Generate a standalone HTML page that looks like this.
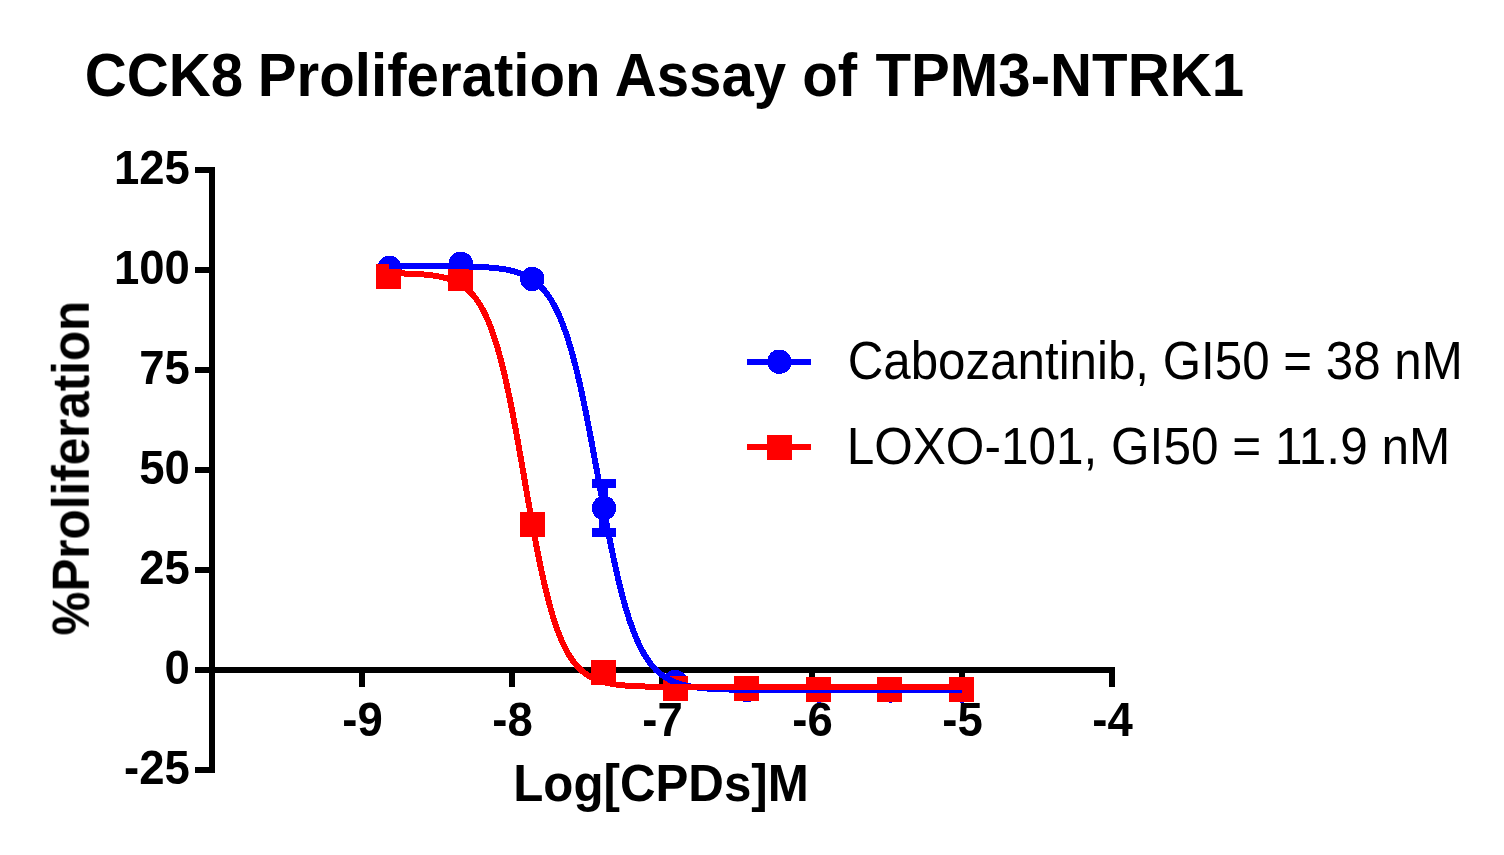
<!DOCTYPE html><html><head><meta charset="utf-8"><style>html,body{margin:0;padding:0;background:#fff;overflow:hidden}svg{display:block}text{will-change:transform}</style></head><body>
<svg width="1504" height="855" viewBox="0 0 1504 855">
<rect width="1504" height="855" fill="#fff"/>
<text transform="translate(84.70,96.00) scale(1.0000,1.0460)" font-family="Liberation Sans, sans-serif" font-weight="bold" font-size="58.20" text-anchor="start">CCK8</text>
<text transform="translate(257.80,96.00) scale(1.0000,1.0460)" font-family="Liberation Sans, sans-serif" font-weight="bold" font-size="58.20" text-anchor="start">Proliferation</text>
<text transform="translate(614.65,96.00) scale(1.0000,1.0460)" font-family="Liberation Sans, sans-serif" font-weight="bold" font-size="58.20" text-anchor="start">Assay</text>
<text transform="translate(802.20,96.00) scale(1.0000,1.0460)" font-family="Liberation Sans, sans-serif" font-weight="bold" font-size="58.20" text-anchor="start">of</text>
<text transform="translate(875.50,96.00) scale(1.0000,1.0460)" font-family="Liberation Sans, sans-serif" font-weight="bold" font-size="58.20" text-anchor="start">TPM3-NTRK1</text>
<g fill="#000" shape-rendering="crispEdges"><rect x="209" y="167" width="6" height="606"/><rect x="195" y="167" width="20" height="6"/><rect x="195" y="267" width="20" height="6"/><rect x="195" y="367" width="20" height="6"/><rect x="195" y="467" width="20" height="6"/><rect x="195" y="567" width="20" height="6"/><rect x="195" y="667" width="20" height="6"/><rect x="195" y="767" width="20" height="6"/><rect x="209" y="667" width="906" height="6"/><rect x="359" y="667" width="6" height="20"/><rect x="509" y="667" width="6" height="20"/><rect x="659" y="667" width="6" height="20"/><rect x="809" y="667" width="6" height="20"/><rect x="959" y="667" width="6" height="20"/><rect x="1109" y="667" width="6" height="20"/></g>
<text transform="translate(189.80,183.60) scale(1.0000,1.0500)" font-family="Liberation Sans, sans-serif" font-weight="bold" font-size="45.50" text-anchor="end">125</text>
<text transform="translate(189.80,283.60) scale(1.0000,1.0500)" font-family="Liberation Sans, sans-serif" font-weight="bold" font-size="45.50" text-anchor="end">100</text>
<text transform="translate(189.80,383.60) scale(1.0000,1.0500)" font-family="Liberation Sans, sans-serif" font-weight="bold" font-size="45.50" text-anchor="end">75</text>
<text transform="translate(189.80,483.60) scale(1.0000,1.0500)" font-family="Liberation Sans, sans-serif" font-weight="bold" font-size="45.50" text-anchor="end">50</text>
<text transform="translate(189.80,583.60) scale(1.0000,1.0500)" font-family="Liberation Sans, sans-serif" font-weight="bold" font-size="45.50" text-anchor="end">25</text>
<text transform="translate(189.80,683.60) scale(1.0000,1.0500)" font-family="Liberation Sans, sans-serif" font-weight="bold" font-size="45.50" text-anchor="end">0</text>
<text transform="translate(189.80,783.60) scale(1.0000,1.0500)" font-family="Liberation Sans, sans-serif" font-weight="bold" font-size="45.50" text-anchor="end">-25</text>
<text transform="translate(362.50,736.50) scale(1.0000,1.0450)" font-family="Liberation Sans, sans-serif" font-weight="bold" font-size="45.50" text-anchor="middle">-9</text>
<text transform="translate(512.50,736.50) scale(1.0000,1.0450)" font-family="Liberation Sans, sans-serif" font-weight="bold" font-size="45.50" text-anchor="middle">-8</text>
<text transform="translate(662.50,736.50) scale(1.0000,1.0450)" font-family="Liberation Sans, sans-serif" font-weight="bold" font-size="45.50" text-anchor="middle">-7</text>
<text transform="translate(812.50,736.50) scale(1.0000,1.0450)" font-family="Liberation Sans, sans-serif" font-weight="bold" font-size="45.50" text-anchor="middle">-6</text>
<text transform="translate(962.50,736.50) scale(1.0000,1.0450)" font-family="Liberation Sans, sans-serif" font-weight="bold" font-size="45.50" text-anchor="middle">-5</text>
<text transform="translate(1112.50,736.50) scale(1.0000,1.0450)" font-family="Liberation Sans, sans-serif" font-weight="bold" font-size="45.50" text-anchor="middle">-4</text>
<text transform="translate(513.20,801.00) scale(1.0000,1.0620)" font-family="Liberation Sans, sans-serif" font-weight="bold" font-size="49.27" text-anchor="start">Log[CPDs]M</text>
<text transform="translate(88.50,635.50) rotate(-90) scale(1.0000,1.0600)" font-family="Liberation Sans, sans-serif" font-weight="bold" font-size="49.40" text-anchor="start">%Proliferation</text>
<g fill="#0000ff" shape-rendering="crispEdges"><circle cx="389.5" cy="268.0" r="12.2"/><circle cx="460.9" cy="263.9" r="12.2"/><circle cx="532.3" cy="279.0" r="12.2"/><circle cx="604.0" cy="508.0" r="12.2"/><circle cx="675.2" cy="682.0" r="12.2"/><circle cx="747.4" cy="690.0" r="12.2"/><circle cx="818.9" cy="690.5" r="12.2"/><circle cx="890.5" cy="690.5" r="12.2"/><circle cx="962.0" cy="690.5" r="12.2"/><rect x="599" y="483" width="9" height="50"/><rect x="592" y="479" width="24" height="9"/><rect x="592" y="528" width="24" height="9"/></g>
<g fill="#ff0000" shape-rendering="crispEdges"><rect x="376.0" y="264.0" width="25" height="25"/><rect x="448.0" y="265.6" width="25" height="25"/><rect x="520.0" y="512.0" width="25" height="25"/><rect x="591.0" y="659.9" width="25" height="25"/><rect x="663.0" y="675.8" width="25" height="25"/><rect x="734.0" y="676.0" width="25" height="25"/><rect x="805.9" y="676.8" width="25" height="25"/><rect x="877.0" y="676.8" width="25" height="25"/><rect x="949.0" y="676.8" width="25" height="25"/></g>
<path d="M389.45,266.01 L390.89,266.01 L392.32,266.01 L393.75,266.01 L395.18,266.01 L396.61,266.01 L398.04,266.01 L399.47,266.01 L400.91,266.02 L402.34,266.02 L403.77,266.02 L405.20,266.02 L406.63,266.02 L408.06,266.02 L409.49,266.02 L410.92,266.03 L412.36,266.03 L413.79,266.03 L415.22,266.03 L416.65,266.03 L418.08,266.04 L419.51,266.04 L420.94,266.04 L422.38,266.05 L423.81,266.05 L425.24,266.05 L426.67,266.06 L428.10,266.06 L429.53,266.07 L430.96,266.07 L432.40,266.08 L433.83,266.08 L435.26,266.09 L436.69,266.10 L438.12,266.11 L439.55,266.11 L440.98,266.12 L442.41,266.13 L443.85,266.14 L445.28,266.15 L446.71,266.17 L448.14,266.18 L449.57,266.19 L451.00,266.21 L452.43,266.22 L453.87,266.24 L455.30,266.26 L456.73,266.28 L458.16,266.30 L459.59,266.32 L461.02,266.35 L462.45,266.37 L463.89,266.40 L465.32,266.43 L466.75,266.47 L468.18,266.50 L469.61,266.54 L471.04,266.58 L472.47,266.63 L473.90,266.68 L475.34,266.73 L476.77,266.78 L478.20,266.84 L479.63,266.91 L481.06,266.98 L482.49,267.05 L483.92,267.13 L485.36,267.22 L486.79,267.32 L488.22,267.42 L489.65,267.53 L491.08,267.64 L492.51,267.77 L493.94,267.90 L495.38,268.05 L496.81,268.21 L498.24,268.38 L499.67,268.56 L501.10,268.75 L502.53,268.96 L503.96,269.19 L505.39,269.43 L506.83,269.69 L508.26,269.98 L509.69,270.28 L511.12,270.60 L512.55,270.96 L513.98,271.33 L515.41,271.74 L516.85,272.17 L518.28,272.64 L519.71,273.14 L521.14,273.68 L522.57,274.26 L524.00,274.88 L525.43,275.55 L526.87,276.27 L528.30,277.04 L529.73,277.87 L531.16,278.75 L532.59,279.70 L534.02,280.72 L535.45,281.81 L536.88,282.98 L538.32,284.23 L539.75,285.57 L541.18,287.00 L542.61,288.53 L544.04,290.17 L545.47,291.91 L546.90,293.78 L548.34,295.76 L549.77,297.88 L551.20,300.14 L552.63,302.54 L554.06,305.09 L555.49,307.81 L556.92,310.69 L558.36,313.74 L559.79,316.97 L561.22,320.39 L562.65,324.01 L564.08,327.82 L565.51,331.84 L566.94,336.07 L568.37,340.52 L569.81,345.18 L571.24,350.07 L572.67,355.18 L574.10,360.51 L575.53,366.07 L576.96,371.85 L578.39,377.85 L579.83,384.06 L581.26,390.48 L582.69,397.10 L584.12,403.91 L585.55,410.90 L586.98,418.05 L588.41,425.36 L589.85,432.80 L591.28,440.36 L592.71,448.02 L594.14,455.76 L595.57,463.56 L597.00,471.40 L598.43,479.26 L599.86,487.11 L601.30,494.94 L602.73,502.72 L604.16,510.44 L605.59,518.07 L607.02,525.59 L608.45,532.99 L609.88,540.25 L611.32,547.35 L612.75,554.29 L614.18,561.04 L615.61,567.59 L617.04,573.95 L618.47,580.09 L619.90,586.02 L621.34,591.73 L622.77,597.22 L624.20,602.48 L625.63,607.52 L627.06,612.33 L628.49,616.93 L629.92,621.30 L631.35,625.47 L632.79,629.42 L634.22,633.17 L635.65,636.72 L637.08,640.08 L638.51,643.26 L639.94,646.25 L641.37,649.08 L642.81,651.74 L644.24,654.24 L645.67,656.60 L647.10,658.81 L648.53,660.88 L649.96,662.83 L651.39,664.66 L652.83,666.37 L654.26,667.97 L655.69,669.47 L657.12,670.87 L658.55,672.18 L659.98,673.40 L661.41,674.55 L662.84,675.61 L664.28,676.61 L665.71,677.54 L667.14,678.40 L668.57,679.21 L670.00,679.96 L671.43,680.67 L672.86,681.32 L674.30,681.93 L675.73,682.49 L677.16,683.02 L678.59,683.51 L680.02,683.97 L681.45,684.40 L682.88,684.79 L684.32,685.16 L685.75,685.50 L687.18,685.82 L688.61,686.12 L690.04,686.39 L691.47,686.65 L692.90,686.89 L694.33,687.11 L695.77,687.31 L697.20,687.50 L698.63,687.68 L700.06,687.85 L701.49,688.00 L702.92,688.14 L704.35,688.27 L705.79,688.40 L707.22,688.51 L708.65,688.62 L710.08,688.72 L711.51,688.81 L712.94,688.89 L714.37,688.97 L715.81,689.04 L717.24,689.11 L718.67,689.18 L720.10,689.23 L721.53,689.29 L722.96,689.34 L724.39,689.39 L725.82,689.43 L727.26,689.47 L728.69,689.51 L730.12,689.54 L731.55,689.58 L732.98,689.61 L734.41,689.63 L735.84,689.66 L737.28,689.69 L738.71,689.71 L740.14,689.73 L741.57,689.75 L743.00,689.77 L744.43,689.78 L745.86,689.80 L747.30,689.81 L748.73,689.83 L750.16,689.84 L751.59,689.85 L753.02,689.86 L754.45,689.87 L755.88,689.88 L757.31,689.89 L758.75,689.90 L760.18,689.90 L761.61,689.91 L763.04,689.92 L764.47,689.92 L765.90,689.93 L767.33,689.93 L768.77,689.94 L770.20,689.94 L771.63,689.95 L773.06,689.95 L774.49,689.95 L775.92,689.96 L777.35,689.96 L778.79,689.96 L780.22,689.97 L781.65,689.97 L783.08,689.97 L784.51,689.97 L785.94,689.97 L787.37,689.98 L788.80,689.98 L790.24,689.98 L791.67,689.98 L793.10,689.98 L794.53,689.98 L795.96,689.98 L797.39,689.99 L798.82,689.99 L800.26,689.99 L801.69,689.99 L803.12,689.99 L804.55,689.99 L805.98,689.99 L807.41,689.99 L808.84,689.99 L810.28,689.99 L811.71,689.99 L813.14,689.99 L814.57,689.99 L816.00,689.99 L817.43,690.00 L818.86,690.00 L820.29,690.00 L821.73,690.00 L823.16,690.00 L824.59,690.00 L826.02,690.00 L827.45,690.00 L828.88,690.00 L830.31,690.00 L831.75,690.00 L833.18,690.00 L834.61,690.00 L836.04,690.00 L837.47,690.00 L838.90,690.00 L840.33,690.00 L841.77,690.00 L843.20,690.00 L844.63,690.00 L846.06,690.00 L847.49,690.00 L848.92,690.00 L850.35,690.00 L851.78,690.00 L853.22,690.00 L854.65,690.00 L856.08,690.00 L857.51,690.00 L858.94,690.00 L860.37,690.00 L861.80,690.00 L863.24,690.00 L864.67,690.00 L866.10,690.00 L867.53,690.00 L868.96,690.00 L870.39,690.00 L871.82,690.00 L873.26,690.00 L874.69,690.00 L876.12,690.00 L877.55,690.00 L878.98,690.00 L880.41,690.00 L881.84,690.00 L883.27,690.00 L884.71,690.00 L886.14,690.00 L887.57,690.00 L889.00,690.00 L890.43,690.00 L891.86,690.00 L893.29,690.00 L894.73,690.00 L896.16,690.00 L897.59,690.00 L899.02,690.00 L900.45,690.00 L901.88,690.00 L903.31,690.00 L904.75,690.00 L906.18,690.00 L907.61,690.00 L909.04,690.00 L910.47,690.00 L911.90,690.00 L913.33,690.00 L914.76,690.00 L916.20,690.00 L917.63,690.00 L919.06,690.00 L920.49,690.00 L921.92,690.00 L923.35,690.00 L924.78,690.00 L926.22,690.00 L927.65,690.00 L929.08,690.00 L930.51,690.00 L931.94,690.00 L933.37,690.00 L934.80,690.00 L936.24,690.00 L937.67,690.00 L939.10,690.00 L940.53,690.00 L941.96,690.00 L943.39,690.00 L944.82,690.00 L946.25,690.00 L947.69,690.00 L949.12,690.00 L950.55,690.00 L951.98,690.00 L953.41,690.00 L954.84,690.00 L956.27,690.00 L957.71,690.00 L959.14,690.00 L960.57,690.00 L962.00,690.00" fill="none" stroke="#0000ff" stroke-width="6" shape-rendering="crispEdges"/>
<path d="M389.45,273.22 L390.89,273.24 L392.32,273.26 L393.75,273.28 L395.18,273.30 L396.61,273.33 L398.04,273.35 L399.47,273.38 L400.91,273.42 L402.34,273.45 L403.77,273.49 L405.20,273.53 L406.63,273.57 L408.06,273.62 L409.49,273.67 L410.92,273.73 L412.36,273.79 L413.79,273.85 L415.22,273.92 L416.65,274.00 L418.08,274.08 L419.51,274.17 L420.94,274.27 L422.38,274.38 L423.81,274.49 L425.24,274.61 L426.67,274.75 L428.10,274.89 L429.53,275.05 L430.96,275.22 L432.40,275.40 L433.83,275.60 L435.26,275.81 L436.69,276.04 L438.12,276.29 L439.55,276.57 L440.98,276.86 L442.41,277.18 L443.85,277.52 L445.28,277.89 L446.71,278.29 L448.14,278.73 L449.57,279.20 L451.00,279.71 L452.43,280.25 L453.87,280.84 L455.30,281.48 L456.73,282.17 L458.16,282.92 L459.59,283.72 L461.02,284.59 L462.45,285.52 L463.89,286.53 L465.32,287.61 L466.75,288.78 L468.18,290.04 L469.61,291.39 L471.04,292.85 L472.47,294.42 L473.90,296.10 L475.34,297.90 L476.77,299.84 L478.20,301.91 L479.63,304.14 L481.06,306.52 L482.49,309.06 L483.92,311.78 L485.36,314.68 L486.79,317.77 L488.22,321.06 L489.65,324.56 L491.08,328.27 L492.51,332.21 L493.94,336.38 L495.38,340.79 L496.81,345.44 L498.24,350.33 L499.67,355.48 L501.10,360.88 L502.53,366.54 L503.96,372.45 L505.39,378.61 L506.83,385.01 L508.26,391.66 L509.69,398.53 L511.12,405.63 L512.55,412.93 L513.98,420.42 L515.41,428.08 L516.85,435.90 L518.28,443.86 L519.71,451.93 L521.14,460.08 L522.57,468.30 L524.00,476.55 L525.43,484.82 L526.87,493.07 L528.30,501.27 L529.73,509.42 L531.16,517.47 L532.59,525.40 L534.02,533.20 L535.45,540.83 L536.88,548.29 L538.32,555.56 L539.75,562.62 L541.18,569.46 L542.61,576.06 L544.04,582.43 L545.47,588.55 L546.90,594.41 L548.34,600.03 L549.77,605.39 L551.20,610.49 L552.63,615.35 L554.06,619.96 L555.49,624.33 L556.92,628.46 L558.36,632.36 L559.79,636.04 L561.22,639.50 L562.65,642.76 L564.08,645.81 L565.51,648.68 L566.94,651.37 L568.37,653.89 L569.81,656.24 L571.24,658.44 L572.67,660.49 L574.10,662.41 L575.53,664.19 L576.96,665.85 L578.39,667.40 L579.83,668.84 L581.26,670.17 L582.69,671.42 L584.12,672.57 L585.55,673.64 L586.98,674.64 L588.41,675.56 L589.85,676.42 L591.28,677.21 L592.71,677.94 L594.14,678.63 L595.57,679.26 L597.00,679.84 L598.43,680.38 L599.86,680.88 L601.30,681.35 L602.73,681.77 L604.16,682.17 L605.59,682.54 L607.02,682.88 L608.45,683.19 L609.88,683.48 L611.32,683.75 L612.75,684.00 L614.18,684.22 L615.61,684.44 L617.04,684.63 L618.47,684.81 L619.90,684.98 L621.34,685.13 L622.77,685.28 L624.20,685.41 L625.63,685.53 L627.06,685.64 L628.49,685.75 L629.92,685.84 L631.35,685.93 L632.79,686.01 L634.22,686.09 L635.65,686.16 L637.08,686.22 L638.51,686.28 L639.94,686.34 L641.37,686.39 L642.81,686.44 L644.24,686.48 L645.67,686.52 L647.10,686.56 L648.53,686.59 L649.96,686.62 L651.39,686.65 L652.83,686.68 L654.26,686.70 L655.69,686.72 L657.12,686.75 L658.55,686.77 L659.98,686.78 L661.41,686.80 L662.84,686.82 L664.28,686.83 L665.71,686.84 L667.14,686.85 L668.57,686.87 L670.00,686.88 L671.43,686.89 L672.86,686.89 L674.30,686.90 L675.73,686.91 L677.16,686.92 L678.59,686.92 L680.02,686.93 L681.45,686.93 L682.88,686.94 L684.32,686.94 L685.75,686.95 L687.18,686.95 L688.61,686.96 L690.04,686.96 L691.47,686.96 L692.90,686.97 L694.33,686.97 L695.77,686.97 L697.20,686.97 L698.63,686.97 L700.06,686.98 L701.49,686.98 L702.92,686.98 L704.35,686.98 L705.79,686.98 L707.22,686.98 L708.65,686.99 L710.08,686.99 L711.51,686.99 L712.94,686.99 L714.37,686.99 L715.81,686.99 L717.24,686.99 L718.67,686.99 L720.10,686.99 L721.53,686.99 L722.96,686.99 L724.39,686.99 L725.82,686.99 L727.26,686.99 L728.69,687.00 L730.12,687.00 L731.55,687.00 L732.98,687.00 L734.41,687.00 L735.84,687.00 L737.28,687.00 L738.71,687.00 L740.14,687.00 L741.57,687.00 L743.00,687.00 L744.43,687.00 L745.86,687.00 L747.30,687.00 L748.73,687.00 L750.16,687.00 L751.59,687.00 L753.02,687.00 L754.45,687.00 L755.88,687.00 L757.31,687.00 L758.75,687.00 L760.18,687.00 L761.61,687.00 L763.04,687.00 L764.47,687.00 L765.90,687.00 L767.33,687.00 L768.77,687.00 L770.20,687.00 L771.63,687.00 L773.06,687.00 L774.49,687.00 L775.92,687.00 L777.35,687.00 L778.79,687.00 L780.22,687.00 L781.65,687.00 L783.08,687.00 L784.51,687.00 L785.94,687.00 L787.37,687.00 L788.80,687.00 L790.24,687.00 L791.67,687.00 L793.10,687.00 L794.53,687.00 L795.96,687.00 L797.39,687.00 L798.82,687.00 L800.26,687.00 L801.69,687.00 L803.12,687.00 L804.55,687.00 L805.98,687.00 L807.41,687.00 L808.84,687.00 L810.28,687.00 L811.71,687.00 L813.14,687.00 L814.57,687.00 L816.00,687.00 L817.43,687.00 L818.86,687.00 L820.29,687.00 L821.73,687.00 L823.16,687.00 L824.59,687.00 L826.02,687.00 L827.45,687.00 L828.88,687.00 L830.31,687.00 L831.75,687.00 L833.18,687.00 L834.61,687.00 L836.04,687.00 L837.47,687.00 L838.90,687.00 L840.33,687.00 L841.77,687.00 L843.20,687.00 L844.63,687.00 L846.06,687.00 L847.49,687.00 L848.92,687.00 L850.35,687.00 L851.78,687.00 L853.22,687.00 L854.65,687.00 L856.08,687.00 L857.51,687.00 L858.94,687.00 L860.37,687.00 L861.80,687.00 L863.24,687.00 L864.67,687.00 L866.10,687.00 L867.53,687.00 L868.96,687.00 L870.39,687.00 L871.82,687.00 L873.26,687.00 L874.69,687.00 L876.12,687.00 L877.55,687.00 L878.98,687.00 L880.41,687.00 L881.84,687.00 L883.27,687.00 L884.71,687.00 L886.14,687.00 L887.57,687.00 L889.00,687.00 L890.43,687.00 L891.86,687.00 L893.29,687.00 L894.73,687.00 L896.16,687.00 L897.59,687.00 L899.02,687.00 L900.45,687.00 L901.88,687.00 L903.31,687.00 L904.75,687.00 L906.18,687.00 L907.61,687.00 L909.04,687.00 L910.47,687.00 L911.90,687.00 L913.33,687.00 L914.76,687.00 L916.20,687.00 L917.63,687.00 L919.06,687.00 L920.49,687.00 L921.92,687.00 L923.35,687.00 L924.78,687.00 L926.22,687.00 L927.65,687.00 L929.08,687.00 L930.51,687.00 L931.94,687.00 L933.37,687.00 L934.80,687.00 L936.24,687.00 L937.67,687.00 L939.10,687.00 L940.53,687.00 L941.96,687.00 L943.39,687.00 L944.82,687.00 L946.25,687.00 L947.69,687.00 L949.12,687.00 L950.55,687.00 L951.98,687.00 L953.41,687.00 L954.84,687.00 L956.27,687.00 L957.71,687.00 L959.14,687.00 L960.57,687.00 L962.00,687.00" fill="none" stroke="#ff0000" stroke-width="6" shape-rendering="crispEdges"/>
<g shape-rendering="crispEdges"><rect x="747" y="359" width="64" height="6" fill="#0000ff"/><circle cx="779.4" cy="361.7" r="12.2" fill="#0000ff"/>
<rect x="747" y="444" width="64" height="6" fill="#ff0000"/><rect x="767" y="435" width="25" height="25" fill="#ff0000"/></g>
<text transform="translate(847.63,378.60) scale(1.0000,1.0700)" font-family="Liberation Sans, sans-serif" font-weight="normal" font-size="49.30" text-anchor="start">Cabozantinib, GI50 = 38 nM</text>
<text transform="translate(846.74,464.10) scale(1.0000,1.0630)" font-family="Liberation Sans, sans-serif" font-weight="normal" font-size="49.55" text-anchor="start">LOXO-101, GI50 = 11.9 nM</text>
</svg></body></html>
